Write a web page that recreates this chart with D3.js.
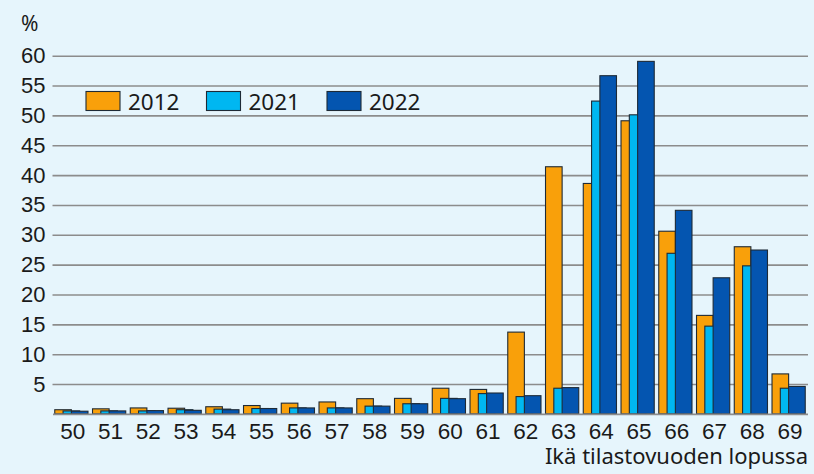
<!DOCTYPE html>
<html>
<head>
<meta charset="utf-8">
<script src="https://cdn.jsdelivr.net/npm/d3@7"></script>
<style>
  body { margin: 0; background: #e6f5fc; }
  svg { display: block; font-family: "Noto Sans", "Open Sans", sans-serif; }
</style>
</head>
<body>
<div id="chart"></div>
<script>
// ages (x categories)
const ages = ["50","51","52","53","54","55","56","57","58","59","60","61","62","63","64","65","66","67","68","69"]

// series, % per age
const series = ["2012", "2021", "2022"]
const values2012 = [0.7, 0.85, 1.0, 0.95, 1.2, 1.4, 1.8, 2.0, 2.55, 2.6, 4.3, 4.1, 13.7, 41.4, 38.6, 49.1, 30.6, 16.5, 28.0, 6.7]
const values2021 = [0.5, 0.5, 0.5, 0.7, 0.8, 0.9, 1.0, 1.0, 1.3, 1.7, 2.6, 3.4, 2.9, 4.3, 52.4, 50.1, 26.9, 14.7, 24.8, 4.3]
const values2022 = [0.45, 0.5, 0.55, 0.6, 0.7, 0.9, 1.0, 1.0, 1.3, 1.7, 2.55, 3.5, 3.05, 4.4, 56.65, 59.05, 34.1, 22.8, 27.45, 4.6]

const yTicks = [5, 10, 15, 20, 25, 30, 35, 40, 45, 50, 55, 60]

const colors = ["#f9a00a", "#00b7f1", "#0455b0"]
const seriesValues = [values2012, values2021, values2022]

const width = 814, height = 474
const plotLeft = 52.5, plotRight = 807.5, plotTop = 55.7, plotBottom = 413.9

const svg = d3.select("#chart")
  .append("svg")
  .attr("width", width)
  .attr("height", height)

svg.append("rect")
  .attr("width", width).attr("height", height)
  .attr("fill", "#e6f5fc")

const x = d3.scaleBand()
  .domain(ages)
  .range([plotLeft, plotRight])
  .paddingInner(0.12)
  .paddingOuter(0.06)

const y = d3.scaleLinear()
  .domain([0, 60])
  .range([plotBottom, plotTop])

// gridlines + y labels
const yAxis = d3.axisLeft(y)
  .tickValues(yTicks)
  .tickSize(-(plotRight - plotLeft + 0.5))
  .tickPadding(8)

const yg = svg.append("g")
  .attr("transform", `translate(${plotLeft}, 0)`)
  .call(yAxis)
yg.select(".domain").remove()
yg.selectAll(".tick line")
  .attr("stroke", "#8c8c8c")
  .attr("stroke-width", 1.6)
yg.selectAll(".tick text")
  .attr("fill", "#1a1a1a")
  .attr("font-size", 22)
  .attr("x", -7)

svg.append("text")
  .attr("x", 21)
  .attr("y", 31)
  .attr("font-size", 21)
  .attr("fill", "#1a1a1a")
  .text("%")

// bars
const bw = x.bandwidth()
series.forEach((s, i) => {
  svg.append("g")
    .selectAll("rect")
    .data(seriesValues[i])
    .enter()
    .append("rect")
    .attr("x", (d, k) => x(ages[k]) + i * bw / 4)
    .attr("width", bw / 2)
    .attr("y", d => y(d))
    .attr("height", d => y(0) - y(d))
    .attr("fill", colors[i])
    .attr("stroke", "#1e2a36")
    .attr("stroke-width", 1.1)
})

// x axis
const xAxis = d3.axisBottom(x).tickSize(0).tickPadding(9)
const xg = svg.append("g")
  .attr("transform", `translate(0, ${plotBottom})`)
  .call(xAxis)
xg.select(".domain")
  .attr("stroke", "#8c8c8c")
  .attr("stroke-width", 1.6)
xg.selectAll(".tick text")
  .attr("fill", "#1a1a1a")
  .attr("font-size", 22.5)
  .attr("dx", 1.5)

svg.append("text")
  .attr("x", 808)
  .attr("y", 464)
  .attr("text-anchor", "end")
  .attr("font-size", 22)
  .attr("fill", "#1a1a1a")
  .text("Ikä tilastovuoden lopussa")

// legend
const legend = svg.append("g")
  .attr("transform", "translate(86, 91.5)")
series.forEach((s, i) => {
  const g = legend.append("g").attr("transform", `translate(${i * 120.5}, 0)`)
  g.append("rect")
    .attr("width", 34).attr("height", 19)
    .attr("fill", colors[i])
    .attr("stroke", "#1e2a36")
    .attr("stroke-width", 1.1)
  g.append("text")
    .attr("x", 42)
    .attr("y", 18)
    .attr("font-size", 22.5)
    .attr("fill", "#1a1a1a")
    .text(s)
})
</script>
</body>
</html>
